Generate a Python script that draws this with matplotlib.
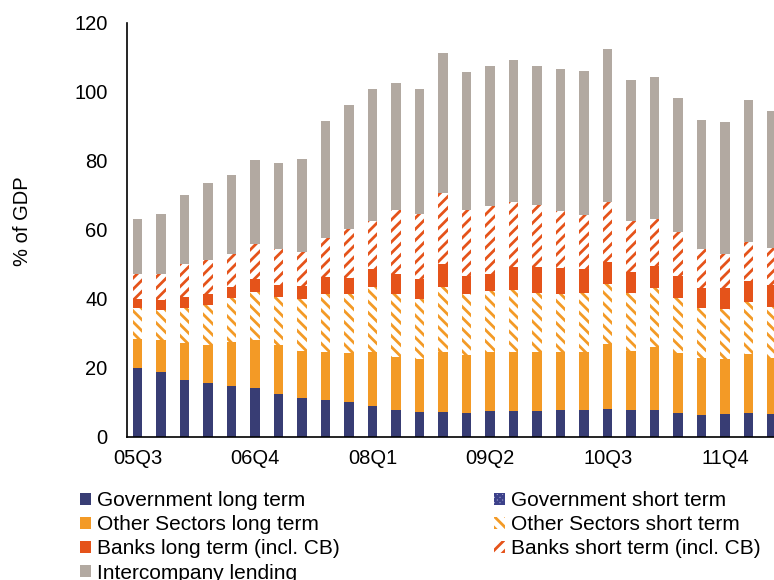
import matplotlib
matplotlib.use("Agg")
import matplotlib.pyplot as plt
import numpy as np
from matplotlib.patches import Patch

plt.rcParams['font.family'] = ['Liberation Sans', 'DejaVu Sans']
plt.rcParams['hatch.linewidth'] = 2.0

# External debt by sector, % of GDP
quarters = ["05Q3", "05Q4", "06Q1", "06Q2", "06Q3", "06Q4", "07Q1", "07Q2",
            "07Q3", "07Q4", "08Q1", "08Q2", "08Q3", "08Q4", "09Q1", "09Q2",
            "09Q3", "09Q4", "10Q1", "10Q2", "10Q3", "10Q4", "11Q1", "11Q2",
            "11Q3", "11Q4", "12Q1", "12Q2"]

gov_long = [20.0, 18.7, 16.6, 15.7, 14.7, 14.2, 12.5, 11.2, 10.8, 10.0, 9.0, 7.9,
            7.2, 7.3, 7.0, 7.6, 7.6, 7.6, 7.8, 7.9, 8.2, 7.7, 7.7, 7.0, 6.5, 6.7,
            7.0, 6.8]
gov_short = [0.0] * 28
other_long = [8.5, 9.4, 10.7, 10.9, 12.9, 14.0, 14.0, 13.8, 13.9, 14.4, 15.7, 15.3,
              15.3, 17.2, 16.6, 16.9, 16.9, 17.1, 16.7, 16.8, 18.8, 17.3, 18.4, 17.2,
              16.3, 15.8, 16.9, 16.2]
other_short = [8.9, 8.8, 10.0, 11.6, 12.5, 13.8, 14.0, 14.9, 16.8, 16.9, 18.8, 18.3,
               17.4, 19.0, 17.9, 17.8, 18.0, 16.9, 16.8, 17.1, 17.4, 16.6, 16.9, 16.1,
               14.6, 14.7, 15.2, 14.7]
banks_long = [2.6, 2.7, 3.3, 3.3, 3.4, 3.6, 3.5, 3.9, 4.9, 4.8, 5.0, 5.7, 5.7, 6.5,
              5.1, 5.0, 6.8, 7.7, 7.6, 6.9, 6.3, 6.2, 6.6, 6.3, 5.6, 5.8, 6.1, 6.2]
banks_short = [7.1, 7.7, 9.6, 9.6, 9.5, 10.2, 10.3, 9.8, 11.3, 14.2, 14.0, 18.4,
               19.1, 20.7, 19.0, 19.5, 18.7, 17.8, 16.5, 15.7, 17.3, 14.7, 13.4, 12.7,
               11.3, 10.1, 11.2, 10.7]
intercompany = [15.9, 17.4, 19.8, 22.4, 22.9, 24.5, 25.0, 27.0, 33.9, 35.9, 38.3,
                37.0, 36.1, 40.5, 40.0, 40.5, 41.1, 40.4, 41.1, 41.7, 44.4, 40.8,
                41.2, 38.8, 37.4, 38.2, 41.1, 39.8]

tick_every = 5

NAVY = "#383d74"
ORANGE = "#f39a26"
RED = "#e5531a"
TAUPE = "#b2a9a1"

gov_short_style = dict(facecolor="#b4b6da", edgecolor="#3c418a", hatch="xxxxxx", linewidth=0)
other_short_style = dict(facecolor="white", edgecolor=ORANGE, hatch="\\\\\\", linewidth=0)
banks_short_style = dict(facecolor="white", edgecolor=RED, hatch="///", linewidth=0)

fig = plt.figure(figsize=(7.74, 5.80), dpi=100)
ax = fig.add_axes([127 / 774, 1 - 437 / 580, 1 - 127 / 774, (437 - 22.5) / 580])

x = np.arange(len(quarters))
w = 0.4
bottom = np.zeros(len(quarters))

layers = [
    (gov_long, dict(color=NAVY)),
    (gov_short, gov_short_style),
    (other_long, dict(color=ORANGE)),
    (other_short, other_short_style),
    (banks_long, dict(color=RED)),
    (banks_short, banks_short_style),
    (intercompany, dict(color=TAUPE)),
]
for vals, style in layers:
    v = np.array(vals)
    ax.bar(x, v, width=w, bottom=bottom, **style)
    bottom += v

ax.set_ylim(0, 120)
ax.set_xlim(-0.455, 27.08)
ax.set_yticks(np.arange(0, 121, 20))
ax.set_xticks(x[::tick_every])
ax.set_xticklabels(quarters[::tick_every])
ax.tick_params(axis="both", length=0, labelsize=14.5)
ax.tick_params(axis="y", pad=14)
ax.tick_params(axis="x", pad=9)
for side in ("top", "right"):
    ax.spines[side].set_visible(False)
for side in ("left", "bottom"):
    ax.spines[side].set_linewidth(1.2)
    ax.spines[side].set_color("black")

ax.set_ylabel("% of GDP", fontsize=14.5)
ax.yaxis.set_label_coords(-0.147, 0.52)

# Legend in two columns beneath the plot
h_gov_long = Patch(facecolor=NAVY, label="Government long term")
h_other_long = Patch(facecolor=ORANGE, label="Other Sectors long term")
h_banks_long = Patch(facecolor=RED, label="Banks long term (incl. CB)")
h_inter = Patch(facecolor=TAUPE, label="Intercompany lending")
h_gov_short = Patch(label="Government short term", **gov_short_style)
h_other_short = Patch(label="Other Sectors short term", **other_short_style)
h_banks_short = Patch(label="Banks short term (incl. CB)", **banks_short_style)

leg_kw = dict(frameon=False, fontsize=15, handlelength=0.52, handleheight=0.52,
              handletextpad=0.3, labelspacing=0.25, borderpad=0, borderaxespad=0,
              loc="upper left")
leg1 = fig.legend(handles=[h_gov_long, h_other_long, h_banks_long, h_inter],
                  bbox_to_anchor=(80 / 774, 1 - 491 / 580), **leg_kw)
leg2 = fig.legend(handles=[h_gov_short, h_other_short, h_banks_short],
                  bbox_to_anchor=(494 / 774, 1 - 491 / 580), **leg_kw)

fig.savefig("out.png", dpi=100)
